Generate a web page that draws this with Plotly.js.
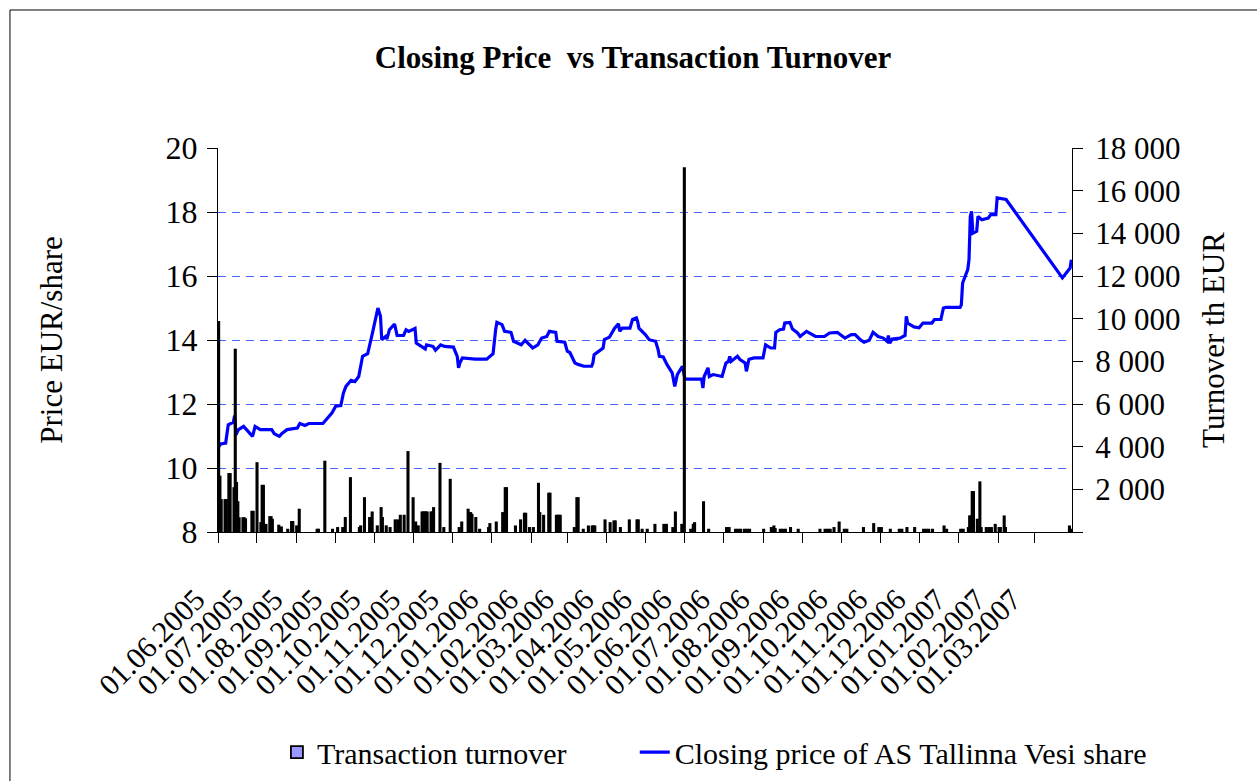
<!DOCTYPE html>
<html><head><meta charset="utf-8">
<script src="https://cdn.plot.ly/plotly-3.0.1.min.js"></script>
<style>html,body{margin:0;padding:0;background:#fff}#chart{width:1257px;height:781px}</style>
</head><body><div id="chart"></div>
<script>
const chartTitle = 'Closing Price  vs Transaction Turnover';
const priceName = 'Closing price of AS Tallinna Vesi share';
const turnoverName = 'Transaction turnover';
const priceAxisTitle = 'Price EUR/share';
const turnoverAxisTitle = 'Turnover th EUR';

const priceDates = ['2005-06-01','2005-06-03','2005-06-07','2005-06-09','2005-06-13','2005-06-14','2005-06-15','2005-06-17','2005-06-21','2005-06-24','2005-06-28','2005-06-30','2005-07-04','2005-07-13','2005-07-15','2005-07-19','2005-07-21','2005-07-25','2005-08-02','2005-08-04','2005-08-08','2005-08-11','2005-08-22','2005-08-25','2005-08-29','2005-09-01','2005-09-05','2005-09-07','2005-09-09','2005-09-13','2005-09-16','2005-09-19','2005-09-21','2005-09-22','2005-09-26','2005-09-28','2005-09-30','2005-10-04','2005-10-06','2005-10-07','2005-10-10','2005-10-11','2005-10-13','2005-10-17','2005-10-19','2005-10-24','2005-10-26','2005-10-28','2005-10-31','2005-11-02','2005-11-03','2005-11-07','2005-11-10','2005-11-11','2005-11-16','2005-11-18','2005-11-22','2005-11-25','2005-12-02','2005-12-05','2005-12-06','2005-12-07','2005-12-09','2005-12-19','2005-12-28',
'2006-01-02','2006-01-03','2006-01-04','2006-01-05','2006-01-09','2006-01-11','2006-01-16','2006-01-18','2006-01-20','2006-01-24','2006-01-27','2006-02-02','2006-02-06','2006-02-09','2006-02-13','2006-02-15','2006-02-20','2006-02-21','2006-02-27','2006-03-01','2006-03-03','2006-03-07','2006-03-10','2006-03-14','2006-03-20','2006-03-21','2006-03-22','2006-03-27','2006-03-29','2006-03-30','2006-04-03','2006-04-07','2006-04-10','2006-04-11','2006-04-13','2006-04-19','2006-04-21','2006-04-24','2006-04-25','2006-04-26','2006-05-01','2006-05-04','2006-05-09','2006-05-11','2006-05-12','2006-05-15','2006-05-18','2006-05-22','2006-05-24','2006-05-26','2006-05-30','2006-06-01','2006-06-14','2006-06-15','2006-06-16','2006-06-19','2006-06-20','2006-06-23','2006-06-30','2006-07-03','2006-07-05','2006-07-06','2006-07-07','2006-07-12','2006-07-14','2006-07-18','2006-07-19','2006-07-21','2006-07-25','2006-08-01','2006-08-03','2006-08-07','2006-08-10','2006-08-11','2006-08-14','2006-08-17','2006-08-18','2006-08-22','2006-08-24','2006-08-28','2006-08-30','2006-09-04','2006-09-06','2006-09-11','2006-09-18','2006-09-22','2006-09-28','2006-10-02','2006-10-04','2006-10-09','2006-10-12','2006-10-16','2006-10-19','2006-10-23','2006-10-26','2006-10-30','2006-11-03','2006-11-06','2006-11-07','2006-11-08','2006-11-10','2006-11-16','2006-11-20','2006-11-21','2006-11-22','2006-11-27','2006-12-01','2006-12-04','2006-12-11','2006-12-13','2006-12-18','2006-12-20','2006-12-22',
'2007-01-02','2007-01-03','2007-01-04','2007-01-08','2007-01-09','2007-01-10','2007-01-11','2007-01-12','2007-01-15','2007-01-16','2007-01-19','2007-01-24','2007-01-26','2007-01-30','2007-01-31','2007-02-07','2007-03-23','2007-03-27','2007-03-29','2007-03-30'];
const priceValues = [10.63,10.75,10.78,11.35,11.43,11.64,11.04,11.2,11.3,11.15,10.99,11.3,11.2,11.2,11.07,10.99,11.08,11.2,11.25,11.39,11.33,11.39,11.39,11.53,11.72,11.93,11.95,12.34,12.55,12.74,12.7,12.86,13.23,13.49,13.57,13.9,14.27,15.0,14.74,14.01,14.11,14.03,14.32,14.5,14.14,14.14,14.32,14.27,14.34,14.36,13.9,13.78,13.72,13.85,13.8,13.68,13.85,13.8,13.78,13.49,13.13,13.28,13.44,13.4,13.4,
13.57,14.0,14.32,14.55,14.48,14.27,14.24,13.96,13.93,13.85,13.99,13.75,13.85,14.06,14.11,14.27,14.24,13.96,13.93,13.65,13.61,13.28,13.23,13.18,13.18,13.28,13.54,13.7,13.75,14.01,14.09,14.37,14.51,14.27,14.37,14.37,14.64,14.69,14.58,14.37,14.17,14.01,13.96,13.7,13.49,13.47,13.23,12.97,12.55,12.92,13.18,12.78,12.78,12.5,12.86,13.13,12.86,12.92,12.86,13.28,13.33,13.49,13.33,13.49,13.39,13.28,13.02,13.4,13.44,13.44,13.85,13.75,13.75,14.24,14.32,14.34,14.53,14.55,14.34,14.22,14.11,14.27,14.22,14.11,14.11,14.22,14.24,14.11,14.06,14.17,14.17,14.01,13.93,13.99,14.24,14.11,14.06,13.96,14.14,13.9,14.03,14.06,14.14,14.74,14.53,14.41,14.38,14.53,14.53,14.64,14.64,15.0,15.02,
15.02,15.1,15.78,16.2,16.51,17.86,18.02,17.34,17.4,17.86,17.76,17.81,17.92,17.92,18.44,18.39,15.94,16.15,16.25,16.51];

const turnoverDates = ['2005-06-01','2005-06-02','2005-06-03','2005-06-06','2005-06-07','2005-06-09','2005-06-10','2005-06-13','2005-06-14','2005-06-15','2005-06-16','2005-06-17','2005-06-20','2005-06-21','2005-06-22','2005-06-27','2005-06-28','2005-07-01','2005-07-04','2005-07-05','2005-07-06','2005-07-08','2005-07-11','2005-07-12','2005-07-13','2005-07-18','2005-07-20','2005-07-25','2005-07-28','2005-07-29','2005-08-01','2005-08-03','2005-08-17','2005-08-18','2005-08-23','2005-08-29','2005-09-02','2005-09-06','2005-09-08','2005-09-12','2005-09-19','2005-09-20','2005-09-23','2005-09-27','2005-09-29','2005-10-03','2005-10-06','2005-10-07','2005-10-10','2005-10-13','2005-10-17','2005-10-19','2005-10-21','2005-10-24','2005-10-27','2005-10-31','2005-11-02','2005-11-04','2005-11-07','2005-11-08','2005-11-09','2005-11-10','2005-11-11','2005-11-14','2005-11-15','2005-11-16','2005-11-21','2005-11-24','2005-11-29','2005-12-06','2005-12-08','2005-12-13','2005-12-14','2005-12-15','2005-12-16','2005-12-19','2005-12-22','2005-12-29','2005-12-30',
'2006-01-04','2006-01-09','2006-01-10','2006-01-11','2006-01-12','2006-01-19','2006-01-23','2006-01-26','2006-01-27','2006-01-30','2006-02-02','2006-02-06','2006-02-07','2006-02-10','2006-02-14','2006-02-15','2006-02-20','2006-02-21','2006-02-22','2006-02-23','2006-03-06','2006-03-08','2006-03-09','2006-03-13','2006-03-17','2006-03-20','2006-03-21','2006-03-22','2006-03-30','2006-04-03','2006-04-06','2006-04-07','2006-04-11','2006-04-18','2006-04-24','2006-04-25','2006-04-28','2006-05-02','2006-05-08','2006-05-15','2006-05-17','2006-05-22','2006-05-24','2006-05-29','2006-05-31','2006-06-05','2006-06-07','2006-06-08','2006-06-15','2006-06-19','2006-07-03','2006-07-05','2006-07-10','2006-07-12','2006-07-14','2006-07-17','2006-07-19','2006-07-21','2006-08-01','2006-08-07','2006-08-09','2006-08-10','2006-08-14','2006-08-16','2006-08-18','2006-08-22','2006-08-28','2006-09-14','2006-09-18','2006-09-20','2006-09-22','2006-09-25','2006-09-29','2006-10-03','2006-10-05','2006-10-18','2006-10-26','2006-10-30','2006-11-01','2006-11-08','2006-11-15','2006-11-17','2006-11-21','2006-11-27','2006-12-04','2006-12-06','2006-12-08','2006-12-11','2006-12-20','2006-12-22',
'2007-01-02','2007-01-04','2007-01-08','2007-01-09','2007-01-10','2007-01-11','2007-01-12','2007-01-15','2007-01-17','2007-01-18','2007-01-22','2007-01-24','2007-01-26','2007-01-29','2007-02-01','2007-02-02','2007-02-05','2007-02-06','2007-03-28','2007-03-30'];
const turnoverValues = [9850,2600,1500,1500,1500,2720,2720,2060,8550,2300,1400,650,650,650,600,950,950,3230,420,2170,2170,340,700,700,580,300,220,110,470,470,270,1050,110,110,3300,110,190,190,660,2530,190,270,1590,660,920,270,1125,660,270,190,550,550,765,765,3750,1590,450,270,920,920,920,920,920,920,920,1125,3200,190,2450,190,450,1050,890,890,810,660,110,190,375,
450,890,860,2060,2060,265,550,860,860,190,190,2265,890,765,1800,1800,765,765,765,765,190,1590,1590,110,265,265,265,265,550,420,500,500,190,550,550,550,110,110,340,340,340,190,920,340,17060,110,340,420,1400,110,190,190,110,110,110,110,110,110,110,190,265,140,110,110,110,190,110,110,110,110,110,190,450,110,110,190,375,190,190,110,110,110,190,190,110,110,110,110,265,110,
110,110,190,735,735,1875,1875,580,2330,190,190,190,190,340,190,190,735,190,265,110];

const priceTicks = [8,10,12,14,16,18,20];
const turnoverTicks = [0,2000,4000,6000,8000,10000,12000,14000,16000,18000];
const dateRange = ['2005-06-01','2007-03-30 12:00'];

const fmt = v => v === 0 ? '' : String(v).replace(/\B(?=(\d{3})+(?!\d))/g, ' ');
const serif = 'Liberation Serif';

const traces = [
  {type:'bar', name: turnoverName, x: turnoverDates, y: turnoverValues, yaxis:'y2', legend:'legend',
   xperiod: 86400000, xperiodalignment:'middle', width: 86400000,
   marker:{color:'#9999ff', line:{color:'#000000', width:1.8}}},
  {type:'scatter', mode:'lines', name: priceName, x: priceDates, y: priceValues, yaxis:'y', legend:'legend2',
   line:{color:'#0000ff', width:3.2}}
];

const legendFont = {family:serif, size:30, color:'#000'};
const layout = {
  width:1257, height:781,
  margin:{l:218, r:185, t:148, b:249, autoexpand:false},
  paper_bgcolor:'#ffffff', plot_bgcolor:'#ffffff',
  font:{family:serif, color:'#000', size:30},
  showlegend:true,
  bargap:0,
  title:{text: chartTitle, font:{family:serif, size:31, weight:'bold', color:'#000'},
         x:0.486, xref:'paper', xanchor:'center', y:0.927, yref:'container', yanchor:'middle'},
  xaxis:{type:'date', range: dateRange, tick0:'2005-06-01', dtick:'M1', tickformat:'%d.%m.%Y',
         tickangle:-45, ticks:'outside', ticklen:10, tickcolor:'#000', tickwidth:1,
         showline:true, linecolor:'#000', linewidth:1, showgrid:false, zeroline:false,
         tickfont:{family:serif, size:30, color:'#000'},
         ticklabelstandoff:27, ticklabelshift:-22, automargin:false},
  yaxis:{range:[8,20], tickvals: priceTicks, ticks:'outside', ticklen:10, tickcolor:'#000',
         showline:true, linecolor:'#000', linewidth:1,
         showgrid:true, gridcolor:'#4466ff', gridwidth:1, griddash:'8px,6px', zeroline:false,
         tickfont:{family:serif, size:32, color:'#000'}, ticklabelstandoff:3,
         title:{text: priceAxisTitle, font:{family:serif, size:31, color:'#000'}, standoff:93},
         automargin:false},
  yaxis2:{range:[0,18000], overlaying:'y', side:'right', tickvals: turnoverTicks,
          ticktext: turnoverTicks.map(fmt), ticks:'outside', ticklen:10, tickcolor:'#000',
          showline:true, linecolor:'#000', linewidth:1, showgrid:false, zeroline:false,
          tickfont:{family:serif, size:31, color:'#000'}, ticklabelstandoff:6,
          title:{text: turnoverAxisTitle, font:{family:serif, size:31, color:'#000'}, standoff:22},
          automargin:false},
  legend:{orientation:'h', x:0.069, xanchor:'left', yref:'container', y:0.037, yanchor:'middle',
          font:legendFont, bgcolor:'rgba(0,0,0,0)'},
  legend2:{orientation:'h', x:0.488, xanchor:'left', yref:'container', y:0.037, yanchor:'middle',
          font:legendFont, bgcolor:'rgba(0,0,0,0)'},
  shapes:[{type:'rect', xref:'paper', yref:'paper', x0:-0.2436, x1:1.3, y0:-0.8, y1:1.3594,
           line:{color:'#000', width:1}, fillcolor:'rgba(0,0,0,0)', layer:'below'}]
};

Plotly.newPlot('chart', traces, layout, {displayModeBar:false, staticPlot:true});
</script>
</body></html>
